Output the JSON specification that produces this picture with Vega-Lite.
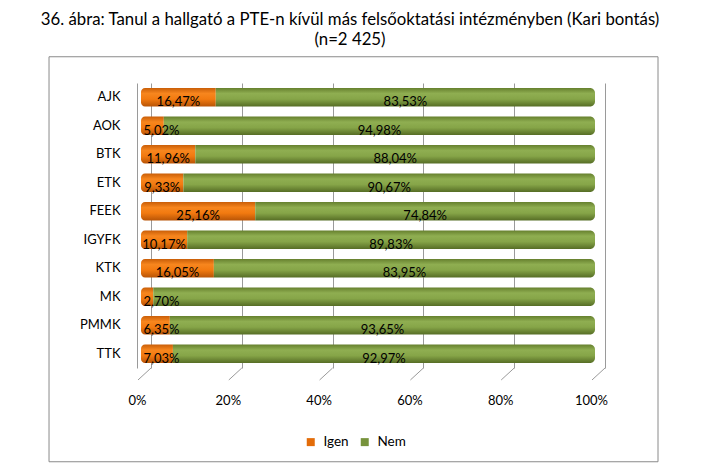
{
  "$schema": "https://vega.github.io/schema/vega-lite/v6.json",
  "autosize": "none",
  "width": 454,
  "height": 285,
  "padding": {"left": 141, "top": 83, "right": 106, "bottom": 108},
  "background": "white",
  "title": {
    "text": ["36. ábra: Tanul a hallgató a PTE-n kívül más felsőoktatási intézményben (Kari bontás)", "(n=2 425)"],
    "font": "Lato",
    "fontSize": 16.8,
    "fontWeight": "normal",
    "color": "#000000",
    "anchor": "middle",
    "frame": "group",
    "dx": -18,
    "lineHeight": 20,
    "offset": 7
  },
  "config": {
    "font": "Lato",
    "view": {"stroke": null},
    "locale": {
      "number": {"decimal": ",", "thousands": " ", "grouping": [3], "currency": ["", " Ft"]}
    }
  },
  "layer": [
    {
      "layer": [
        {
          "data": {"values": [{}]},
          "mark": {"type": "rect", "fill": null, "stroke": "#8a8a8a", "strokeWidth": 1, "clip": false},
          "encoding": {
            "x": {"datum": -0.2026, "type": "quantitative", "scale": {"domain": [0, 1]}, "title": null},
            "x2": {"datum": 1.1388},
            "y": {"datum": 1.0921, "type": "quantitative", "scale": {"domain": [0, 1], "nice": false, "zero": false}, "axis": null},
            "y2": {"datum": -0.329}
          }
        },
        {
          "data": {"values": [{"t": 0}, {"t": 0.2}, {"t": 0.4}, {"t": 0.6}, {"t": 0.8}, {"t": 1}]},
          "mark": {"type": "rule", "color": "#9a9a9a", "strokeWidth": 1, "xOffset": 10, "x2Offset": -3, "clip": false},
          "encoding": {
            "x": {"field": "t", "type": "quantitative", "title": null},
            "x2": {"field": "t"},
            "y": {"datum": 0, "type": "quantitative"},
            "y2": {"datum": -0.042}
          }
        }
      ]
    },
    {
      "data": {
        "values": [
          {"kar": "AJK", "valasz": "Igen", "ertek": 0.1647},
          {"kar": "AJK", "valasz": "Nem", "ertek": 0.8353},
          {"kar": "AOK", "valasz": "Igen", "ertek": 0.0502},
          {"kar": "AOK", "valasz": "Nem", "ertek": 0.9498},
          {"kar": "BTK", "valasz": "Igen", "ertek": 0.1196},
          {"kar": "BTK", "valasz": "Nem", "ertek": 0.8804},
          {"kar": "ETK", "valasz": "Igen", "ertek": 0.0933},
          {"kar": "ETK", "valasz": "Nem", "ertek": 0.9067},
          {"kar": "FEEK", "valasz": "Igen", "ertek": 0.2516},
          {"kar": "FEEK", "valasz": "Nem", "ertek": 0.7484},
          {"kar": "IGYFK", "valasz": "Igen", "ertek": 0.1017},
          {"kar": "IGYFK", "valasz": "Nem", "ertek": 0.8983},
          {"kar": "KTK", "valasz": "Igen", "ertek": 0.1605},
          {"kar": "KTK", "valasz": "Nem", "ertek": 0.8395},
          {"kar": "MK", "valasz": "Igen", "ertek": 0.0270},
          {"kar": "MK", "valasz": "Nem", "ertek": 0.9730},
          {"kar": "PMMK", "valasz": "Igen", "ertek": 0.0635},
          {"kar": "PMMK", "valasz": "Nem", "ertek": 0.9365},
          {"kar": "TTK", "valasz": "Igen", "ertek": 0.0703},
          {"kar": "TTK", "valasz": "Nem", "ertek": 0.9297}
        ]
      },
      "transform": [
        {"stack": "ertek", "groupby": ["kar"], "as": ["x0", "x1"], "sort": [{"field": "valasz", "order": "ascending"}]},
        {"calculate": "max((datum.x0 + datum.x1) / 2, datum.x0 + 0.045)", "as": "mid"}
      ],
      "encoding": {
        "y": {
          "field": "kar",
          "type": "nominal",
          "sort": ["AJK", "AOK", "BTK", "ETK", "FEEK", "IGYFK", "KTK", "MK", "PMMK", "TTK"],
          "scale": {"paddingInner": 0.35, "paddingOuter": 0.175},
          "title": null,
          "axis": {
            "orient": "left",
            "ticks": false,
            "tickSize": 0,
            "labelPadding": 17,
            "labelFontSize": 13,
            "labelColor": "#000000",
            "labelFont": "Lato",
            "domain": true,
            "domainColor": "#9a9a9a",
            "offset": 4,
            "grid": false
          }
        }
      },
      "layer": [
        {
          "mark": {"type": "bar", "opacity": 0},
          "encoding": {
            "x": {
              "field": "x0",
              "type": "quantitative",
              "scale": {"domain": [0, 1]},
              "title": null,
              "axis": {
                "format": ".0%",
                "values": [0, 0.2, 0.4, 0.6, 0.8, 1],
                "ticks": false,
                "tickSize": 0,
                "domain": false,
                "grid": true,
                "gridColor": "#9a9a9a",
                "gridWidth": 1,
                "tickOffset": 10,
                "labelOffset": -14,
                "labelFlush": false,
                "labelPadding": 26,
                "labelFontSize": 13,
                "labelColor": "#000000",
                "labelFont": "Lato"
              }
            },
            "x2": {"field": "x1"},
            "color": {
              "field": "valasz",
              "type": "nominal",
              "scale": {"domain": ["Igen", "Nem"], "range": ["#E36C09", "#77933C"]},
              "legend": {
                "title": null,
                "orient": "none",
                "legendX": 163,
                "legendY": 352,
                "direction": "horizontal",
                "symbolType": "square",
                "symbolSize": 64,
                "symbolOpacity": 1,
                "symbolStrokeWidth": 0,
                "labelFontSize": 13.5,
                "labelColor": "#000000",
                "labelFont": "Lato",
                "labelOffset": 6,
                "columnPadding": 9
              }
            }
          }
        },
        {
          "transform": [{"filter": "datum.valasz === 'Igen'"}],
          "mark": {
            "type": "bar",
            "cornerRadiusTopLeft": 4,
            "cornerRadiusBottomLeft": 4,
            "fill": {
              "gradient": "linear", "x1": 0, "y1": 0, "x2": 0, "y2": 1,
              "stops": [
                {"offset": 0, "color": "#C95E08"},
                {"offset": 0.3, "color": "#F7861E"},
                {"offset": 0.6, "color": "#F27A10"},
                {"offset": 1, "color": "#B85406"}
              ]
            }
          },
          "encoding": {
            "x": {"field": "x0", "type": "quantitative"},
            "x2": {"field": "x1"}
          }
        },
        {
          "transform": [{"filter": "datum.valasz === 'Nem'"}],
          "mark": {
            "type": "bar",
            "cornerRadiusTopRight": 5,
            "cornerRadiusBottomRight": 5,
            "fill": {
              "gradient": "linear", "x1": 0, "y1": 0, "x2": 0, "y2": 1,
              "stops": [
                {"offset": 0, "color": "#66802E"},
                {"offset": 0.3, "color": "#8FAE51"},
                {"offset": 0.6, "color": "#86A548"},
                {"offset": 1, "color": "#566D25"}
              ]
            }
          },
          "encoding": {
            "x": {"field": "x0", "type": "quantitative"},
            "x2": {"field": "x1"}
          }
        },
        {
          "transform": [{"filter": "!(datum.kar === 'MK' && datum.valasz === 'Nem')"}],
          "mark": {"type": "text", "dy": 5, "fontSize": 13, "font": "Lato", "color": "#000000"},
          "encoding": {
            "x": {"field": "mid", "type": "quantitative"},
            "text": {"field": "ertek", "type": "quantitative", "format": ".2%"}
          }
        }
      ]
    }
  ],
  "resolve": {"scale": {"y": "independent"}}
}
